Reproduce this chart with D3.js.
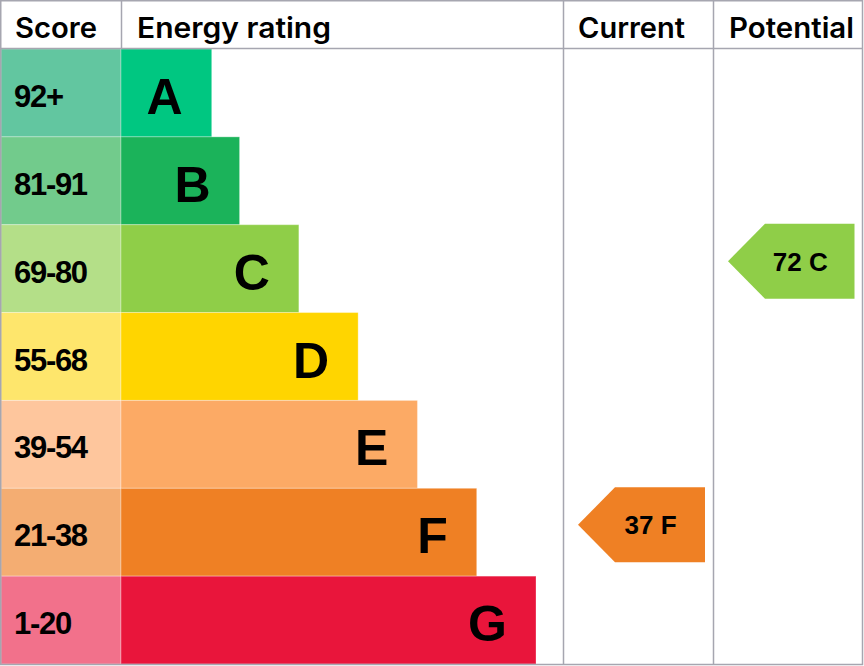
<!DOCTYPE html>
<html>
<head>
<meta charset="utf-8">
<script src="https://cdn.jsdelivr.net/npm/d3@7"></script>
<style>
  html, body { margin: 0; padding: 0; background: #fff; }
  svg { display: block; }
</style>
</head>
<body>
<svg id="chart" width="864" height="666"></svg>
<script>
// ---- data ----
const ratings = ["A", "B", "C", "D", "E", "F", "G"];
const scoreRanges = ["92+", "81-91", "69-80", "55-68", "39-54", "21-38", "1-20"];
const minScores = [92, 81, 69, 55, 39, 21, 1];
const barUnits = [1.53, 2, 3, 4, 5, 6, 7];
const barColors = ["#00c781", "#1bb35a", "#8fce48", "#ffd500", "#fcaa65", "#ef8024", "#e9153b"];
const scoreColors = ["#62c6a0", "#72cb8c", "#b4df88", "#fee66c", "#fec69d", "#f4ad72", "#f2718b"];
const headers = ["Score", "Energy rating", "Current", "Potential"];
const currentScore = 37;
const potentialScore = 72;

// ---- layout ----
const headerH = 48, bottom = 664;
const col = { score: 1, bars: 121, current: 563, potential: 713, right: 862.5 };
const grid = "#a6a6b0";

const svg = d3.select("#chart");

const y = d3.scaleBand().domain(ratings).range([headerH + 1, bottom]).paddingInner(0);
const xBar = d3.scaleLinear().domain([0, 7]).range([0, 415]);

function ratingFor(score) {
  for (let i = 0; i < minScores.length; i++) if (score >= minScores[i]) return ratings[i];
  return ratings[ratings.length - 1];
}

const rows = ratings.map((r, i) => ({
  r, range: scoreRanges[i], units: barUnits[i], bar: barColors[i], cell: scoreColors[i]
}));

// score cells
svg.append("g").selectAll("rect").data(rows).join("rect")
  .attr("x", col.score).attr("y", d => y(d.r))
  .attr("width", col.bars - col.score).attr("height", y.bandwidth())
  .attr("fill", d => d.cell)
  .attr("stroke", "#fff").attr("stroke-opacity", 0.3).attr("stroke-width", 1);

// bars
svg.append("g").selectAll("rect").data(rows).join("rect")
  .attr("x", col.bars).attr("y", d => y(d.r))
  .attr("width", d => xBar(d.units)).attr("height", y.bandwidth())
  .attr("fill", d => d.bar)
  .attr("stroke", "#fff").attr("stroke-opacity", 0.3).attr("stroke-width", 1);

// score labels
svg.append("g").selectAll("text").data(rows).join("text")
  .attr("x", 14).attr("y", d => y(d.r) + y.bandwidth() / 2 + 14)
  .attr("font-family", "Liberation Sans, Arial, sans-serif")
  .attr("font-weight", "bold").attr("font-size", 31)
  .attr("letter-spacing", -1.3)
  .attr("fill", "#000")
  .text(d => d.range);

// rating letters
svg.append("g").selectAll("text").data(rows).join("text")
  .attr("x", d => col.bars + xBar(d.units) - 29)
  .attr("y", d => y(d.r) + y.bandwidth() / 2 + 21)
  .attr("text-anchor", "end")
  .attr("font-family", "Liberation Sans, Arial, sans-serif")
  .attr("font-weight", "bold").attr("font-size", 50)
  .attr("fill", "#000")
  .text(d => d.r);

// grid lines
const g = svg.append("g").attr("fill", "none").attr("stroke", grid).attr("stroke-width", 1.5);
g.append("rect").attr("x", 0.75).attr("y", 0.75).attr("width", col.right - 0.75).attr("height", bottom - 0.25);
g.append("line").attr("x1", 0).attr("x2", col.right).attr("y1", headerH + 0.5).attr("y2", headerH + 0.5);
g.append("line").attr("x1", col.bars + 0.5).attr("x2", col.bars + 0.5).attr("y1", 0).attr("y2", headerH);
[col.current, col.potential].forEach(x => {
  g.append("line").attr("x1", x + 0.5).attr("x2", x + 0.5).attr("y1", 0).attr("y2", bottom);
});

// headers
const headerX = [15, 137, 578, 729];
const headerW = [82, 194, 107, 125];
svg.append("g").selectAll("text").data(headers).join("text")
  .attr("x", (d, i) => headerX[i]).attr("y", 38)
  .attr("font-family", "Inter, sans-serif")
  .attr("font-weight", 600).attr("font-size", 28)
  .attr("textLength", (d, i) => headerW[i])
  .attr("lengthAdjust", "spacingAndGlyphs")
  .attr("fill", "#000")
  .text(d => d);

// arrows
function arrow(score, colLeft, colRight) {
  const r = ratingFor(score);
  const i = ratings.indexOf(r);
  const top = y(r) - 1, h = 75;
  const tip = colLeft + 15, right = colRight - 8, notch = tip + 37;
  const mid = top + h / 2;
  const gA = svg.append("g");
  gA.append("path")
    .attr("d", `M${tip},${mid} L${notch},${top} L${right},${top} L${right},${top + h} L${notch},${top + h} Z`)
    .attr("fill", barColors[i]);
  gA.append("text")
    .attr("x", (tip + right) / 2 + 9).attr("y", mid + 9.5)
    .attr("text-anchor", "middle")
    .attr("font-family", "Liberation Sans, Arial, sans-serif")
    .attr("font-weight", "bold").attr("font-size", 26)
    .attr("fill", "#000")
    .text(`${score} ${r}`);
}
arrow(currentScore, col.current, col.potential);
arrow(potentialScore, col.potential, col.right);
</script>
</body>
</html>
